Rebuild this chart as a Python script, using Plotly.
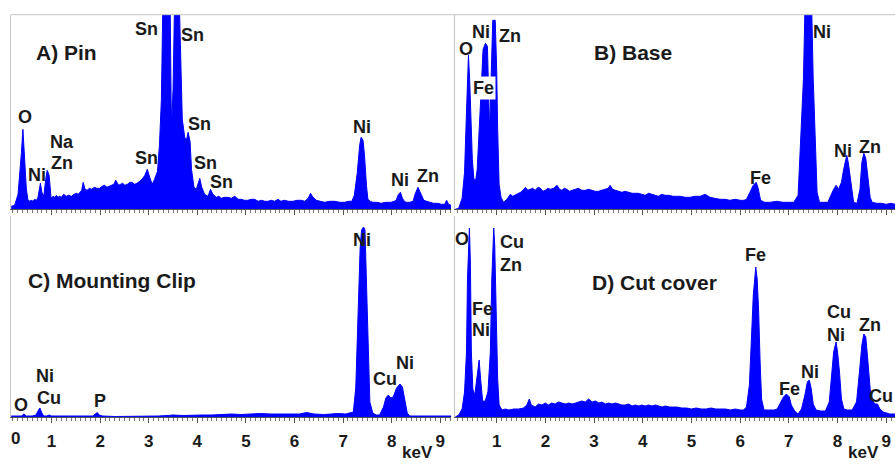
import plotly.graph_objects as go

# ---------------- data (keV, counts in panel units) ----------------
A_keV = [0.17, 0.24, 0.31, 0.34, 0.38, 0.41, 0.45, 0.48, 0.51, 0.55,
         0.58, 0.62, 0.65, 0.69, 0.72, 0.77, 0.80, 0.84, 0.88, 0.91,
         0.95, 0.99, 1.03, 1.06, 1.10, 1.13, 1.17, 1.20, 1.25, 1.30,
         1.35, 1.41, 1.46, 1.51, 1.55, 1.58, 1.62, 1.65, 1.69, 1.73,
         1.78, 1.83, 1.88, 1.93, 1.99, 2.04, 2.09, 2.14, 2.19, 2.24,
         2.28, 2.32, 2.38, 2.42, 2.46, 2.51, 2.56, 2.61, 2.66, 2.71,
         2.76, 2.81, 2.86, 2.92, 2.97, 3.02, 3.07, 3.12, 3.18, 3.22,
         3.26, 3.29, 3.44, 3.46, 3.47, 3.50, 3.53, 3.63, 3.66, 3.69,
         3.74, 3.78, 3.81, 3.85, 3.88, 3.93, 3.98, 4.05, 4.09, 4.15,
         4.22, 4.27, 4.32, 4.39, 4.44, 4.49, 4.56, 4.63, 4.70, 4.77,
         4.84, 4.90, 4.97, 5.04, 5.11, 5.18, 5.25, 5.32, 5.39, 5.45,
         5.52, 5.59, 5.66, 5.72, 5.79, 5.88, 5.97, 6.05, 6.14, 6.21,
         6.28, 6.33, 6.38, 6.45, 6.53, 6.62, 6.72, 6.83, 6.93, 7.03,
         7.11, 7.18, 7.23, 7.29, 7.34, 7.37, 7.41, 7.44, 7.48, 7.51,
         7.56, 7.61, 7.70, 7.78, 7.88, 7.99, 8.05, 8.09, 8.14, 8.18,
         8.22, 8.26, 8.30, 8.37, 8.44, 8.48, 8.54, 8.59, 8.66, 8.72,
         8.78, 8.86, 8.95, 9.02, 9.09, 9.13, 9.17, 9.22]
A_cnt = [3, 4, 15, 31, 57, 80, 47, 21, 10, 8,
         9, 8, 10, 9, 12, 26, 17, 13, 30, 39,
         34, 11, 13, 12, 14, 12, 13, 12, 15, 13,
         14, 13, 15, 16, 15, 17, 19, 27, 20, 19,
         21, 20, 22, 21, 21, 23, 24, 22, 23, 24,
         25, 29, 24, 25, 26, 24, 25, 27, 27, 25,
         26, 28, 30, 34, 40, 32, 25, 30, 38, 64,
         110, 205, 205, 110, 84, 120, 205, 205, 140, 90,
         72, 70, 77, 68, 40, 22, 20, 31, 22, 15,
         13, 20, 15, 12, 13, 11, 12, 12, 11, 13,
         10, 10, 9, 9, 10, 10, 8, 9, 8, 8,
         9, 8, 10, 8, 9, 8, 8, 9, 9, 8,
         11, 16, 12, 9, 8, 7, 8, 8, 7, 7,
         8, 8, 14, 36, 64, 72, 69, 54, 24, 10,
         8, 7, 7, 6, 7, 7, 8, 9, 15, 17,
         11, 8, 7, 7, 8, 15, 22, 17, 9, 8,
         7, 6, 6, 5, 5, 9, 5, 4]

B_keV = [0.15, 0.22, 0.29, 0.34, 0.38, 0.40, 0.42, 0.445, 0.47, 0.50,
         0.53, 0.57, 0.60, 0.64, 0.68, 0.72, 0.77, 0.81, 0.84, 0.855,
         0.876, 0.90, 0.92, 0.97, 1.00, 1.02, 1.05, 1.09, 1.14, 1.21,
         1.28, 1.33, 1.38, 1.44, 1.49, 1.54, 1.59, 1.64, 1.69, 1.74,
         1.79, 1.85, 1.90, 1.95, 2.00, 2.05, 2.10, 2.17, 2.24, 2.29,
         2.34, 2.39, 2.44, 2.50, 2.55, 2.61, 2.68, 2.75, 2.82, 2.89,
         2.96, 3.02, 3.09, 3.16, 3.23, 3.29, 3.33, 3.38, 3.44, 3.50,
         3.57, 3.64, 3.71, 3.78, 3.85, 3.91, 3.98, 4.05, 4.12, 4.19,
         4.26, 4.32, 4.39, 4.46, 4.53, 4.62, 4.70, 4.77, 4.87, 4.97,
         5.07, 5.18, 5.28, 5.38, 5.48, 5.59, 5.69, 5.79, 5.90, 6.00,
         6.08, 6.13, 6.20, 6.27, 6.33, 6.37, 6.42, 6.50, 6.62, 6.75,
         6.88, 7.00, 7.10, 7.19, 7.25, 7.30, 7.33, 7.47, 7.50, 7.54,
         7.58, 7.63, 7.70, 7.80, 7.91, 7.97, 8.02, 8.08, 8.13, 8.19,
         8.22, 8.26, 8.29, 8.33, 8.40, 8.46, 8.50, 8.54, 8.58, 8.62,
         8.67, 8.71, 8.80, 8.90, 9.00, 9.10, 9.18]
B_cnt = [0, 1, 11, 37, 97, 137, 154, 130, 90, 50,
         31, 29, 40, 87, 118, 160, 166, 163, 110, 78,
         115, 170, 189, 189, 140, 80, 25, 12, 7, 10,
         15, 13, 14, 16, 17, 19, 22, 19, 20, 21,
         19, 22, 21, 18, 19, 21, 20, 21, 24, 20,
         19, 21, 20, 18, 19, 20, 21, 19, 19, 20,
         19, 18, 18, 19, 20, 21, 24, 20, 19, 18,
         17, 18, 17, 16, 16, 16, 15, 14, 16, 15,
         14, 13, 15, 14, 14, 13, 13, 13, 12, 12,
         13, 13, 15, 12, 11, 10, 10, 9, 10, 9,
         9, 10, 17, 24, 27, 21, 9, 7, 7, 8,
         7, 7, 7, 14, 81, 131, 200, 200, 131, 64,
         17, 7, 7, 7, 19, 24, 20, 27, 41, 54,
         47, 31, 17, 7, 6, 20, 47, 56, 51, 31,
         12, 7, 6, 6, 5, 6, 5]

C_keV = [0.17, 0.30, 0.38, 0.43, 0.48, 0.60, 0.68, 0.72, 0.76, 0.80,
         0.84, 0.90, 0.95, 1.00, 1.10, 1.30, 1.50, 1.70, 1.85, 1.90,
         1.94, 1.98, 2.05, 2.30, 2.60, 2.90, 3.20, 3.40, 3.50, 3.70,
         3.90, 4.10, 4.30, 4.50, 4.70, 4.90, 5.10, 5.30, 5.50, 5.70,
         5.90, 6.10, 6.25, 6.40, 6.60, 6.75, 6.90, 7.05, 7.15, 7.21,
         7.26, 7.31, 7.35, 7.38, 7.42, 7.45, 7.48, 7.52, 7.55, 7.61,
         7.68, 7.75, 7.83, 7.88, 7.93, 7.98, 8.03, 8.10, 8.17, 8.22,
         8.27, 8.32, 8.37, 8.50, 8.58, 8.65, 8.80, 8.90, 9.00, 9.22]
C_cnt = [1, 1, 1, 3, 1, 1, 2, 6, 9, 4,
         1, 1, 2, 1, 1, 0.5, 0.5, 1, 1, 3,
         4.5, 2, 1, 0.5, 0.5, 1, 1, 1.5, 2, 1.5,
         2, 2, 2, 2.5, 3, 2.5, 3, 3.5, 3, 3,
         3.5, 3, 4.5, 3, 2.5, 3, 3.5, 3, 4, 5,
         29, 102, 169, 187, 190, 187, 135, 62, 15, 4,
         2, 2, 10, 19, 22, 19, 20, 29, 33, 30,
         15, 4, 1, 1, 1.7, 1.5, 1, 1.5, 1, 1]

D_keV = [0.15, 0.22, 0.29, 0.34, 0.38, 0.40, 0.44, 0.46, 0.48, 0.51,
         0.55, 0.58, 0.62, 0.64, 0.67, 0.71, 0.74, 0.77, 0.82, 0.87,
         0.90, 0.94, 0.96, 0.99, 1.02, 1.05, 1.11, 1.18, 1.25, 1.35,
         1.45, 1.55, 1.62, 1.67, 1.71, 1.79, 1.86, 1.93, 2.00, 2.06,
         2.13, 2.20, 2.27, 2.34, 2.41, 2.48, 2.55, 2.62, 2.68, 2.75,
         2.82, 2.89, 2.96, 3.03, 3.10, 3.16, 3.23, 3.30, 3.37, 3.44,
         3.51, 3.57, 3.64, 3.71, 3.78, 3.85, 3.92, 3.98, 4.05, 4.12,
         4.19, 4.26, 4.33, 4.40, 4.46, 4.55, 4.63, 4.70, 4.80, 4.90,
         5.00, 5.10, 5.20, 5.30, 5.40, 5.50, 5.60, 5.70, 5.80, 5.90,
         6.00, 6.07, 6.13, 6.19, 6.24, 6.27, 6.30, 6.32, 6.35, 6.38,
         6.41, 6.44, 6.49, 6.60, 6.70, 6.76, 6.82, 6.89, 6.95, 7.01,
         7.05, 7.12, 7.19, 7.26, 7.33, 7.38, 7.42, 7.46, 7.50, 7.56,
         7.65, 7.75, 7.83, 7.88, 7.92, 7.97, 8.00, 8.04, 8.08, 8.13,
         8.20, 8.30, 8.39, 8.45, 8.50, 8.54, 8.58, 8.62, 8.67, 8.71,
         8.77, 8.82, 8.87, 8.94, 9.07, 9.18]
D_cnt = [0, 2, 8, 25, 65, 138, 189, 155, 65, 28,
         22, 35, 55, 57, 38, 17, 15, 17, 25, 65,
         138, 189, 172, 105, 38, 12, 7, 8, 7, 8,
         8, 9, 12, 18, 12, 10, 13, 12, 14, 12,
         14, 13, 15, 14, 13, 14, 13, 14, 15, 16,
         15, 18, 15, 16, 14, 15, 13, 14, 13, 14,
         13, 12, 12, 13, 11, 12, 11, 12, 11, 12,
         11, 12, 11, 10, 11, 10, 10, 10, 9, 9,
         8, 9, 8, 8, 9, 8, 8, 8, 7, 8,
         7, 7, 10, 32, 88, 122, 138, 150, 138, 105,
         55, 18, 7, 7, 7, 8, 13, 20, 23, 20,
         12, 6, 3, 8, 22, 35, 37, 28, 13, 7,
         6, 6, 15, 45, 65, 75, 65, 45, 18, 8,
         7, 7, 15, 45, 72, 83, 80, 58, 28, 17,
         13, 13, 8, 5, 3, 3]

tick_vals = [1, 2, 3, 4, 5, 6, 7, 8, 9]
tick_text = ["1", "2", "3", "4", "5", "6", "7", "8", "9"]

# labels: (text, x keV, y counts)
A_labels = [("Sn", 2.96, 180), ("Sn", 3.91, 174), ("O", 0.45, 92), ("Na", 1.21, 67),
            ("Zn", 1.21, 46), ("Ni", 0.70, 34), ("Sn", 2.96, 51), ("Sn", 4.05, 85),
            ("Sn", 4.16, 46), ("Sn", 4.49, 27), ("Ni", 7.39, 82), ("Ni", 8.17, 29),
            ("Zn", 8.74, 33)]
B_labels = [("O", 0.37, 160), ("Ni", 0.68, 177), ("Zn", 1.27, 173), ("Fe", 6.41, 31),
            ("Ni", 7.68, 177), ("Ni", 8.11, 58), ("Zn", 8.67, 62)]
C_labels = [("Ni", 0.86, 41), ("Cu", 0.95, 19), ("O", 0.37, 12), ("P", 2.00, 16),
            ("Ni", 7.39, 177), ("Cu", 7.86, 38), ("Ni", 8.27, 54)]
D_labels = [("O", 0.29, 178), ("Cu", 1.31, 175), ("Zn", 1.29, 152), ("Fe", 0.70, 108),
            ("Ni", 0.68, 87), ("Fe", 6.32, 162), ("Fe", 7.02, 28), ("Ni", 7.43, 45),
            ("Cu", 8.03, 105), ("Ni", 7.97, 82), ("Zn", 8.67, 92)]
titles = [("A) Pin", 1.30, 157), ("B) Base", 3.80, 157),
          ("C) Mounting Clip", 2.24, 137), ("D) Cut cover", 4.25, 135)]

# ---------------- figure ----------------
W, H = 895, 464
BLUE = "#0000ff"
TXT = "#1a1a1a"
FONT = "Liberation Sans, Arial, sans-serif"

def px_x(p):
    return p / W

def px_y(p):
    return (H - p) / H

fig = go.Figure()
panels = [(A_keV, A_cnt, "x", "y"), (B_keV, B_cnt, "x2", "y2"),
          (C_keV, C_cnt, "x3", "y3"), (D_keV, D_cnt, "x4", "y4")]
for xs, ys, xa, ya in panels:
    fig.add_trace(go.Scatter(x=xs, y=ys, xaxis=xa, yaxis=ya, mode="lines",
                             line=dict(color=BLUE, width=1), fill="tozeroy",
                             fillcolor=BLUE, hoverinfo="skip", showlegend=False))

left_dom = [px_x(11), px_x(451)]
right_dom = [px_x(455), 1.0]
top_dom = [px_y(209.3), px_y(14.7)]
bot_dom = [px_y(417), px_y(216)]

def xaxis(dom, rng, anchor, labels):
    return dict(domain=dom, range=rng, anchor=anchor, showgrid=False, zeroline=False,
                showline=True, linecolor="#555555", linewidth=1,
                ticks="outside", ticklen=5, tickcolor="#555555", tickwidth=1,
                tickvals=tick_vals, ticktext=tick_text, showticklabels=labels,
                ticklabelstandoff=4,
                tickfont=dict(family=FONT, size=17, color=TXT, weight="bold"),
                minor=dict(dtick=0.1, tick0=0, ticks="outside", ticklen=3,
                           tickcolor="#777777", tickwidth=1),
                fixedrange=True)

def yaxis(dom, rng, anchor):
    return dict(domain=dom, range=rng, anchor=anchor, showgrid=False, zeroline=False,
                showline=True, linecolor="#c4c4c4", linewidth=1, ticks="",
                showticklabels=False, fixedrange=True)

L_RNG = [0.165, 9.22]
R_RNG = [0.144, 9.18]
fig.update_layout(
    width=W, height=H, margin=dict(l=0, r=0, t=0, b=0),
    paper_bgcolor="white", plot_bgcolor="white",
    xaxis=xaxis(left_dom, L_RNG, "y", False),
    yaxis=yaxis(top_dom, [0, 194.6], "x"),
    xaxis2=xaxis(right_dom, R_RNG, "y2", False),
    yaxis2=yaxis(top_dom, [0, 194.6], "x2"),
    xaxis3=xaxis(left_dom, L_RNG, "y3", True),
    yaxis3=yaxis(bot_dom, [0, 201], "x3"),
    xaxis4=xaxis(right_dom, R_RNG, "y4", True),
    yaxis4=yaxis(bot_dom, [0, 201], "x4"),
)

# top border
fig.add_shape(type="line", xref="paper", yref="paper", x0=px_x(11), x1=1.0,
              y0=px_y(14.7), y1=px_y(14.7), line=dict(color="#c4c4c4", width=1))

def lab(text, x, y, xr, yr, size=18, bg=None, xanchor="center"):
    fig.add_annotation(text="<b>%s</b>" % text, x=x, y=y, xref=xr, yref=yr,
                       showarrow=False, xanchor=xanchor, yanchor="middle",
                       font=dict(family=FONT, size=size, color=TXT),
                       bgcolor=bg, borderpad=1)

for labs, xr, yr in [(A_labels, "x", "y"), (B_labels, "x2", "y2"),
                     (C_labels, "x3", "y3"), (D_labels, "x4", "y4")]:
    for t, x, y in labs:
        lab(t, x, y, xr, yr)
# Fe label in B sits on a white box over the peak
lab("Fe", 0.72, 121, "x2", "y2", bg="white")
# far-right Cu label in D, kept just inside the frame
lab("Cu", 9.17, 21, "x4", "y4", xanchor="right")

for (t, x, y), (xr, yr) in zip(titles, [("x", "y"), ("x2", "y2"), ("x3", "y3"), ("x4", "y4")]):
    lab(t, x, y, xr, yr, size=21)

# "0" tick label at left edge and keV axis titles
fig.add_annotation(text="<b>0</b>", x=px_x(16), y=px_y(438), xref="paper", yref="paper",
                   showarrow=False, xanchor="center", yanchor="middle",
                   font=dict(family=FONT, size=17, color=TXT))
for xk in [417, 863]:
    fig.add_annotation(text="<b>keV</b>", x=px_x(xk), y=px_y(463), xref="paper", yref="paper",
                       showarrow=False, xanchor="center", yanchor="bottom", borderpad=0,
                       font=dict(family=FONT, size=17, color=TXT))

fig.write_html("out.html", config={"displayModeBar": False},
               post_script="document.body.style.margin='0px';")
